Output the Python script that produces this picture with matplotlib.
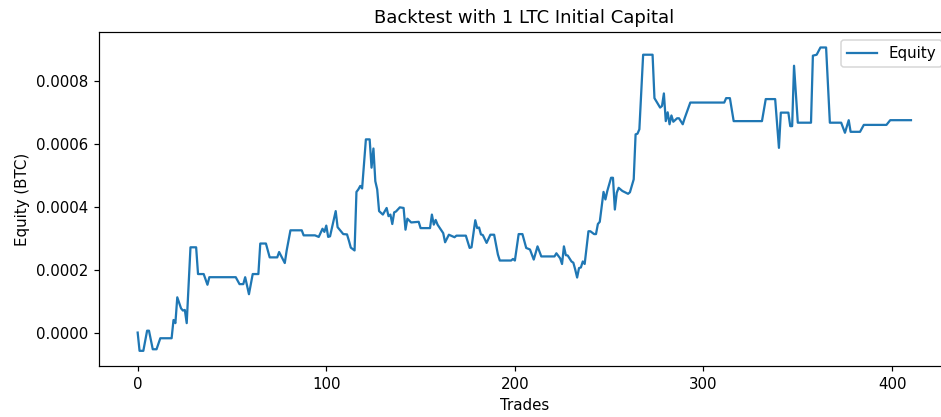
import matplotlib
matplotlib.use("Agg")
import matplotlib.pyplot as plt

# change points of the equity curve (trade number, equity in BTC)
trades = [0, 1, 3, 5, 6, 8, 10, 12, 18, 19, 20, 21, 23, 24, 25, 26, 28, 31,
          32, 35, 37, 38, 52, 54, 56, 57, 59, 61, 64, 65, 68, 70, 74, 75, 78,
          79, 81, 87, 88, 94, 96, 98, 99, 100, 101,
          102, 105, 106, 109, 111, 112, 113, 115, 116, 117, 118, 119, 121, 123,
          124, 125, 126, 127, 128, 130, 132, 133, 134, 135, 136, 137, 139, 141,
          142, 143, 145, 149, 150, 155, 156, 157, 158, 159, 162, 163, 165, 168,
          169, 174, 176, 177, 179, 180, 181, 182, 183, 185, 187, 189, 191, 192,
          198, 199, 200, 202, 204, 206,
          208, 210, 212, 214, 221, 222, 224, 225, 226, 227, 228, 230, 231, 232,
          233, 234, 235, 236, 237, 239, 240, 242, 243, 244, 245, 247, 248, 249,
          251, 252, 253, 254, 255, 257, 260, 261, 263, 264, 265, 266, 268, 273,
          274, 275, 277, 278, 279, 280, 281, 282, 283, 284, 286, 287, 289, 290,
          293, 311, 312,
          314, 316, 331, 333, 338, 340, 341, 345, 346, 347, 348, 350, 357, 358,
          360, 362, 365, 367, 373, 375, 377, 378, 383, 385, 397, 399, 410]
equity = [0.0, -0.000058, -0.000058, 0.000006, 0.000006, -0.000053, -0.000053,
          -0.000018, -0.000018, 0.00004, 0.00003, 0.000112, 0.000077, 0.00007,
          0.000072, 0.00003, 0.000271, 0.000271, 0.000186, 0.000186, 0.000152,
          0.000176, 0.000176, 0.000154, 0.000154, 0.000176, 0.000122, 0.000186,
          0.000186, 0.000283, 0.000283, 0.000239, 0.000239, 0.000256, 0.000221,
          0.000261, 0.000325, 0.000325, 0.000309, 0.000309, 0.000304, 0.00033,
          0.00032, 0.00034, 0.000304,
          0.000306, 0.000386, 0.000335, 0.000313, 0.000312, 0.000292, 0.00027,
          0.000261, 0.000447, 0.000455, 0.000466, 0.000458, 0.000614, 0.000614,
          0.000524, 0.000585, 0.000481, 0.000455, 0.000386, 0.000375, 0.000396,
          0.00037, 0.000375, 0.000345, 0.000382, 0.000385, 0.000398, 0.000396,
          0.000327, 0.000362, 0.00035, 0.000352, 0.000332, 0.000332, 0.000375,
          0.000343, 0.000358, 0.000343, 0.000316, 0.000287, 0.000311, 0.000303,
          0.000308, 0.000308, 0.000269, 0.000271, 0.000357, 0.000332, 0.000334,
          0.000312, 0.00031, 0.000285, 0.000311, 0.000311, 0.000248, 0.000229,
          0.000229, 0.000234, 0.000229, 0.000313, 0.000313, 0.000269,
          0.000264, 0.000232, 0.000274, 0.000242, 0.000242, 0.000252, 0.000236,
          0.000218, 0.000274, 0.000246, 0.000245, 0.000226, 0.000222, 0.0002,
          0.000175, 0.000205, 0.000207, 0.000226, 0.000218, 0.000322, 0.000322,
          0.000313, 0.000313, 0.000345, 0.000352, 0.000447, 0.000423, 0.00045,
          0.000492, 0.000492, 0.000391, 0.000444, 0.00046, 0.00045, 0.000441,
          0.000446, 0.000487, 0.00063, 0.000632, 0.000646, 0.000883, 0.000883,
          0.000745, 0.000735, 0.000715, 0.00072, 0.00076, 0.000672, 0.0007,
          0.000662, 0.00069, 0.00067, 0.000681, 0.000681, 0.000662, 0.000681,
          0.000731, 0.000731, 0.000745,
          0.000745, 0.000672, 0.000672, 0.000742, 0.000742, 0.000587, 0.000699,
          0.000699, 0.000656, 0.000656, 0.000848, 0.000667, 0.000667, 0.00088,
          0.000883, 0.000906, 0.000906, 0.000667, 0.000667, 0.000635, 0.000675,
          0.000638, 0.000638, 0.00066, 0.00066, 0.000675, 0.000675]

DPI = 108
fig = plt.figure(figsize=(942 / DPI, 417 / DPI), dpi=DPI)
# the original screenshot is cropped on the right, so the axes run past the edge
ax = fig.add_axes([0.1051, 0.1223, 0.903, 0.8002])

ax.plot(trades, equity, label='Equity')
ax.set_title('Backtest with 1 LTC Initial Capital')
ax.set_xlabel('Trades')
ax.set_ylabel('Equity (BTC)')
ax.legend(loc='upper right')

fig.savefig('out.png', dpi=DPI)
